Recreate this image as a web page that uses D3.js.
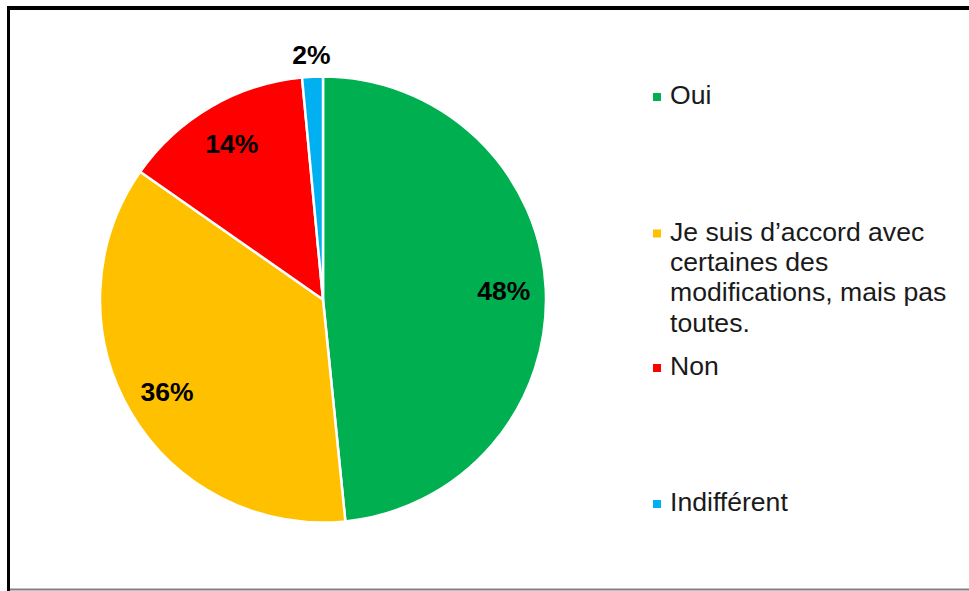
<!DOCTYPE html>
<html>
<head>
<meta charset="utf-8">
<script src="https://cdn.jsdelivr.net/npm/d3@7"></script>
<style>
  body { margin: 0; background: #fff; }
  svg { display: block; font-family: "Liberation Sans", Arial, sans-serif; }
</style>
</head>
<body>
<div id="chart"></div>
<script>
// data
const categories = ['Oui', 'Je suis d’accord avec certaines des modifications, mais pas toutes.', 'Non', 'Indifférent'];
const values = [48.4, 36.3, 13.8, 1.5];
const colors = ['#00B050', '#FFC000', '#FF0000', '#00B0F0'];
// legend text broken the way the original wraps it
const legendLines = [
  ['Oui'],
  ['Je suis d’accord avec', 'certaines des', 'modifications, mais pas', 'toutes.'],
  ['Non'],
  ['Indifférent']
];

const width = 969;
const height = 591;

const svg = d3.select('#chart')
  .append('svg')
  .attr('width', width)
  .attr('height', height);

// chart frame
svg.append('line')
  .attr('x1', 8.5).attr('x2', 8.5)
  .attr('y1', 6).attr('y2', 591)
  .attr('stroke', '#000').attr('stroke-width', 3);
svg.append('line')
  .attr('x1', 7).attr('x2', width)
  .attr('y1', 8).attr('y2', 8)
  .attr('stroke', '#000').attr('stroke-width', 4);
svg.append('line')
  .attr('x1', 10).attr('x2', width)
  .attr('y1', 589.5).attr('y2', 589.5)
  .attr('stroke', '#808080').attr('stroke-width', 2);

// pie
const cx = 323;
const cy = 299.5;
const radius = 223;

const pie = d3.pie().sort(null).value(d => d);
const arcs = pie(values);

const arc = d3.arc().innerRadius(0).outerRadius(radius);
const labelArc = d3.arc().innerRadius(181).outerRadius(181);
const outerLabelArc = d3.arc().innerRadius(245).outerRadius(245);

const groupPie = svg.append('g')
  .attr('transform', `translate(${cx}, ${cy})`);

groupPie.selectAll('.slice')
  .data(arcs)
  .enter()
  .append('path')
  .attr('class', 'slice')
  .attr('d', arc)
  .attr('fill', (d, i) => colors[i])
  .attr('stroke', '#fff')
  .attr('stroke-width', 2.5)
  .attr('stroke-linejoin', 'round');

// percent labels, small slice goes outside
groupPie.selectAll('.pct')
  .data(arcs)
  .enter()
  .append('text')
  .attr('class', 'pct')
  .attr('transform', d => {
    const p = (d.data < 5 ? outerLabelArc : labelArc).centroid(d);
    return `translate(${p[0]}, ${p[1]})`;
  })
  .attr('text-anchor', 'middle')
  .attr('dy', '0.36em')
  .attr('font-size', 26.5)
  .attr('font-weight', 'bold')
  .attr('fill', '#000')
  .text(d => Math.round(d.data) + '%');

// legend
const legendY = [104, 240.5, 375, 511];
const lineStep = 30.4;

const legend = svg.append('g').attr('class', 'legend');

const item = legend.selectAll('.item')
  .data(categories)
  .enter()
  .append('g')
  .attr('class', 'item')
  .attr('transform', (d, i) => `translate(653, ${legendY[i]})`);

item.append('rect')
  .attr('x', 0)
  .attr('y', -11)
  .attr('width', 8)
  .attr('height', 8)
  .attr('fill', (d, i) => colors[i]);

item.append('text')
  .attr('font-size', 26.6)
  .attr('fill', '#1a1a1a')
  .each(function (d, i) {
    d3.select(this).selectAll('tspan')
      .data(legendLines[i])
      .enter()
      .append('tspan')
      .attr('x', 17)
      .attr('y', (t, j) => j * lineStep)
      .text(t => t);
  });
</script>
</body>
</html>
